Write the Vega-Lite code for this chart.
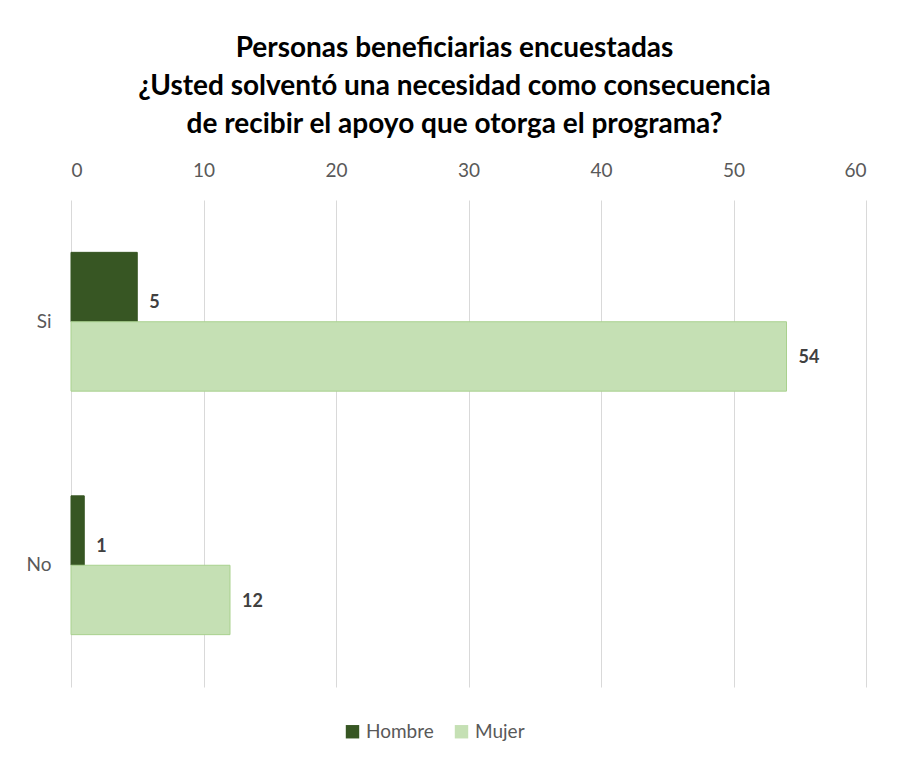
{
  "$schema": "https://vega.github.io/schema/vega-lite/v6.json",
  "width": 795,
  "height": 487,
  "autosize": {"type": "none"},
  "padding": {"left": 71, "top": 200, "right": 38, "bottom": 75},
  "background": "white",
  "config": {
    "font": "Lato",
    "view": {"stroke": null},
    "axis": {"labelFont": "Lato", "labelColor": "#595959", "labelFontSize": 19}
  },
  "title": {
    "text": ["Personas beneficiarias encuestadas", "¿Usted solventó una necesidad como consecuencia", "de recibir el apoyo que otorga el programa?"],
    "font": "Lato",
    "fontSize": 28,
    "fontWeight": "bold",
    "color": "#000000",
    "lineHeight": 38,
    "anchor": "middle",
    "dx": -14,
    "offset": 22
  },
  "data": {
    "values": [
      {"respuesta": "Si", "sexo": "Hombre", "valor": 5},
      {"respuesta": "Si", "sexo": "Mujer", "valor": 54},
      {"respuesta": "No", "sexo": "Hombre", "valor": 1},
      {"respuesta": "No", "sexo": "Mujer", "valor": 12}
    ]
  },
  "encoding": {
    "y": {
      "field": "respuesta",
      "type": "nominal",
      "sort": ["Si", "No"],
      "scale": {"paddingInner": 0.43, "paddingOuter": 0.215},
      "axis": {"title": null, "domain": false, "ticks": false, "labelPadding": 20, "grid": false}
    },
    "x": {
      "field": "valor",
      "type": "quantitative",
      "scale": {"domain": [0, 60], "nice": false},
      "axis": {"orient": "top", "title": null, "values": [0, 10, 20, 30, 40, 50, 60], "domain": false, "ticks": false, "labelPadding": 20, "grid": true, "gridColor": "#D9D9D9", "gridWidth": 1}
    },
    "yOffset": {"field": "sexo", "type": "nominal", "sort": ["Hombre", "Mujer"]}
  },
  "layer": [
    {
      "mark": {"type": "bar", "strokeWidth": 1},
      "encoding": {
        "color": {
          "field": "sexo",
          "type": "nominal",
          "scale": {"domain": ["Hombre", "Mujer"], "range": ["#375623", "#C5E0B4"]},
          "legend": {
            "title": null,
            "orient": "none",
            "direction": "horizontal",
            "legendX": 272,
            "legendY": 522,
            "symbolType": "square",
            "symbolSize": 180,
            "symbolStrokeWidth": 0,
            "labelFont": "Lato",
            "labelFontSize": 19,
            "labelColor": "#595959",
            "columnPadding": 18,
            "labelOffset": 4
          }
        },
        "stroke": {
          "field": "sexo",
          "type": "nominal",
          "scale": {"domain": ["Hombre", "Mujer"], "range": ["#375623", "#A9D18E"]},
          "legend": null
        }
      }
    },
    {
      "transform": [{"filter": "datum.sexo === 'Hombre'"}],
      "mark": {"type": "text", "align": "left", "dx": 12, "dy": 16, "fontSize": 18, "fontWeight": "bold", "color": "#404040", "font": "Lato"},
      "encoding": {"text": {"field": "valor", "type": "quantitative"}}
    },
    {
      "transform": [{"filter": "datum.sexo === 'Mujer'"}],
      "mark": {"type": "text", "align": "left", "dx": 12, "dy": 2, "fontSize": 18, "fontWeight": "bold", "color": "#404040", "font": "Lato"},
      "encoding": {"text": {"field": "valor", "type": "quantitative"}}
    }
  ]
}
